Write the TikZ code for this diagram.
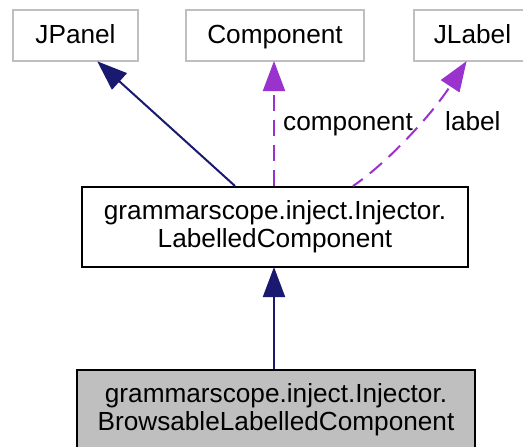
\documentclass[tikz,border=0pt]{standalone}
\usepackage{fontspec}
\setmainfont{Liberation Sans}
\usetikzlibrary{arrows.meta}
\definecolor{navy}{HTML}{191970}
\definecolor{orchid}{HTML}{9A32CD}
\definecolor{boxgrey}{HTML}{BFBFBF}
\begin{document}
\begin{tikzpicture}[x=1pt,y=1pt,
  every node/.style={font=\fontsize{26.2}{28}\selectfont, align=center, inner sep=0pt},
  extbox/.style={draw=boxgrey, line width=2pt, minimum height=51pt, text height=19pt, text depth=4pt},
  clsbox/.style={draw=black, line width=2pt, minimum height=80pt},
  inherit/.style={draw=navy, line width=2pt, -{Triangle[length=30pt,width=22pt]}, shorten >=-1pt},
  usage/.style={draw=orchid, line width=2pt, dash pattern=on 16pt off 9pt, -{Triangle[length=30pt,width=22pt]}, shorten >=-1pt},
  elabel/.style={anchor=base west}]
\useasboundingbox (0,0) rectangle (523,-447);
\node[extbox, minimum width=125pt] (jp) at (75.5,-35.5) {JPanel};
\node[extbox, minimum width=178pt] (cp) at (275,-35.5) {Component};
\node[extbox, minimum width=117pt] (jl) at (472.5,-35.5) {JLabel};
\node[clsbox, minimum width=386pt] (lc) at (275,-227) {grammarscope.inject.Injector.\\LabelledComponent};
\node[clsbox, minimum width=398pt, fill=boxgrey] (bl) at (276,-410) {grammarscope.inject.Injector.\\BrowsableLabelledComponent};
\draw[inherit] ([xshift=-40pt]lc.north) -- ([xshift=22.5pt]jp.south);
\draw[usage] ([xshift=-1pt]lc.north) -- ([xshift=-1pt]cp.south);
\draw[usage, dash phase=4pt] ([xshift=78pt]lc.north) .. controls +(30pt,20pt) and +(-38pt,-58pt) .. ([xshift=-6.5pt]jl.south);
\draw[inherit] ([xshift=-2pt]bl.north) -- ([xshift=-1pt]lc.south);
\node[elabel] (lcomp) at (283,-130) {component};
\node[elabel] (llab) at (445,-130) {label};
\end{tikzpicture}
\end{document}
